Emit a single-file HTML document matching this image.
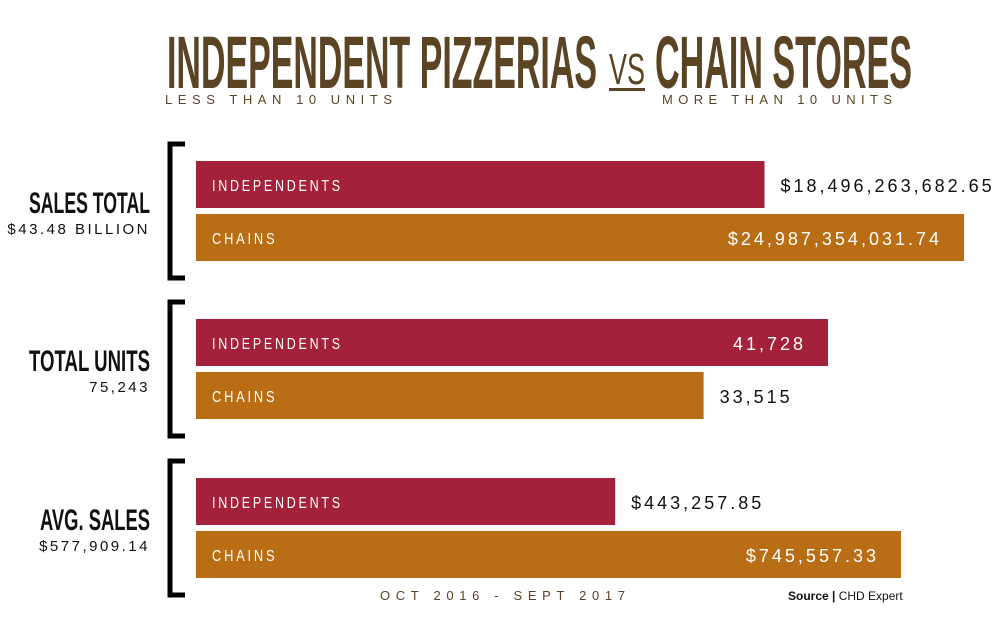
<!DOCTYPE html>
<html><head><meta charset="utf-8"><style>
html,body{margin:0;padding:0;background:#fff;width:1000px;height:630px;overflow:hidden}
svg{display:block;font-family:"Liberation Sans",sans-serif}
</style></head><body>
<svg id="chart" width="1000" height="630" viewBox="0 0 1000 630">
<g fill="#5a4424" font-weight="bold">
<text x="167" y="88" font-size="74" textLength="430" lengthAdjust="spacingAndGlyphs">INDEPENDENT PIZZERIAS</text>
<text x="609" y="84" font-size="44" font-weight="normal" textLength="36" lengthAdjust="spacingAndGlyphs">VS</text>
<rect x="609" y="88" width="36" height="3"/>
<text x="655" y="88" font-size="74" textLength="257" lengthAdjust="spacingAndGlyphs">CHAIN STORES</text>
</g>
<text x="165" y="104" font-size="13" fill="#5a4424" textLength="227" lengthAdjust="spacing">LESS THAN 10 UNITS</text>
<text x="662" y="104" font-size="13" fill="#5a4424" textLength="230" lengthAdjust="spacing">MORE THAN 10 UNITS</text>
<g id="groups"></g>
<text x="380" y="600" font-size="13" fill="#5a4424" textLength="245" lengthAdjust="spacing">OCT 2016 - SEPT 2017</text>
<text x="788" y="600" font-size="12" fill="#111"><tspan font-weight="bold">Source</tspan>  <tspan font-weight="bold">|</tspan>  CHD Expert</text>
</svg>
<script>
const groupTitles=["SALES TOTAL","TOTAL UNITS","AVG. SALES"];
const groupTotals=["$43.48 BILLION","75,243","$577,909.14"];
const independentValues=[18496263682.65,41728,443257.85];
const chainValues=[24987354031.74,33515,745557.33];
const independentLabels=["$18,496,263,682.65","41,728","$443,257.85"];
const chainLabels=["$24,987,354,031.74","33,515","$745,557.33"];
const groupMaxWidth=[768,632,705];
const NS="http://www.w3.org/2000/svg";
const root=document.getElementById('groups');
function mk(tag,attrs,txt){const e=document.createElementNS(NS,tag);for(const k in attrs)e.setAttribute(k,attrs[k]);if(txt!=null)e.textContent=txt;return e;}
const x0=196;
for(let i=0;i<3;i++){
  const top=[142,300,459][i];
  const g=mk('g',{});
  
  
  const maxV=Math.max(independentValues[i],chainValues[i]);
  const sx=v=>v/maxV*groupMaxWidth[i];
  // bracket
  const br=mk('path',{d:`M185 ${top+2} H170 V${top+136} H185`,stroke:'#000','stroke-width':5,fill:'none'});
  
  
  g.appendChild(br);
  const t=mk('text',{x:150,y:top+71,'text-anchor':'end','font-size':30,'font-weight':'bold',fill:'#111',textLength:groupTitles[i].length*11,lengthAdjust:'spacingAndGlyphs'},groupTitles[i]);
  
  
  g.appendChild(t);
  const tt=mk('text',{x:150,y:top+92,'text-anchor':'end','font-size':15,fill:'#111','letter-spacing':'2.5'},groupTotals[i]);
  
  
  g.appendChild(tt);
  const rows=[{v:independentValues[i],lab:'INDEPENDENTS',val:independentLabels[i],c:'#a3213a',y:top+19},{v:chainValues[i],lab:'CHAINS',val:chainLabels[i],c:'#b96d14',y:top+72}];
  rows.forEach((r,j)=>{
    const w=sx(r.v);
    const b=mk('rect',{x:x0,y:r.y,width:w,height:47,fill:r.c});
    
    
    g.appendChild(b);
    const l=mk('text',{x:212,y:r.y+30,'font-size':16,fill:'#fff','letter-spacing':'3.5',textLength:r.lab.length*10.9,lengthAdjust:'spacingAndGlyphs'},r.lab);
    
    
    g.appendChild(l);
    const inside=(r.v===maxV);
    const vt=mk('text',{x:inside?x0+w-22:x0+w+16,y:r.y+31,'text-anchor':inside?'end':'start','font-size':18,fill:inside?'#fff':'#111','letter-spacing':'3'},r.val);
    
    
    g.appendChild(vt);
  });
  root.appendChild(g);
}
</script>
</body></html>
